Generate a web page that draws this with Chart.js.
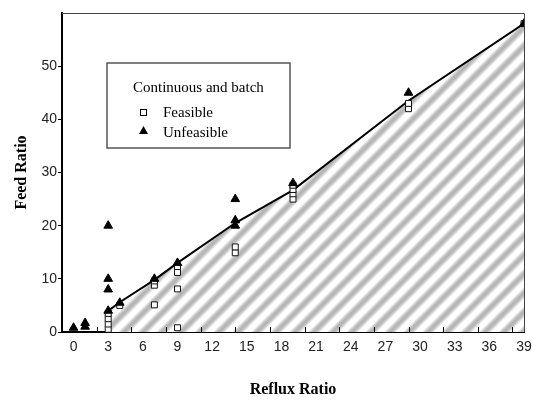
<!DOCTYPE html>
<html>
<head>
<meta charset="utf-8">
<script src="https://cdn.jsdelivr.net/npm/chart.js@4.4.1/dist/chart.umd.min.js"></script>
<style>
  html, body { margin: 0; padding: 0; background: #fff; }
  #wrap { width: 533px; height: 400px; position: relative; }
</style>
</head>
<body>
<div id="wrap"><canvas id="c"></canvas></div>
<script>
// boundary line (feasible region lies below it)
const boundX = [3, 4, 7, 9, 14, 19, 29, 39]
const boundY = [4, 5.6, 9.8, 13, 20.5, 26.7, 43.5, 58]

// feasible runs (open squares)
const feasX = [3, 3, 3, 3, 4, 7, 7, 7, 9, 9, 9, 9, 14, 14, 19, 19, 19, 19, 29, 29, 39]
const feasY = [0.5, 1.5, 2.5, 3.5, 5, 5.1, 8.8, 9.6, 0.8, 8.1, 11.2, 12.3, 14.9, 16, 25, 26, 26.8, 27.6, 42, 43, 58]

// unfeasible runs (filled triangles)
const unfX = [0, 1, 1, 3, 3, 3, 3, 4, 7, 9, 14, 14, 14, 19, 29, 39]
const unfY = [0.8, 1, 1.7, 4, 8, 10, 20, 5.5, 10, 13, 20, 21, 25, 28, 45, 58]

const xLabels = [0, 3, 6, 9, 12, 15, 18, 21, 24, 27, 30, 33, 36, 39]
const xTickMarks = [2, 5, 8, 11, 14, 17, 20, 23, 26, 29, 32, 35, 38]
const yLabels = [0, 10, 20, 30, 40, 50]

const legendTitle = 'Continuous and batch'

const toPts = (xs, ys) => xs.map((x, i) => ({ x, y: ys[i] }))

function makeStripes () {
  const s = 19
  const c = document.createElement('canvas')
  c.width = s
  c.height = s
  const g = c.getContext('2d')
  g.fillStyle = '#fff'
  g.fillRect(0, 0, s, s)
  const lines = [[-s, s, s, -s], [0, s, s, 0], [0, 2 * s, 2 * s, 0]]
  ;[[8, '#e4e4e4'], [5.5, '#c8c8c8'], [3, '#b6b6b6']].forEach(([w, col]) => {
    g.strokeStyle = col
    g.lineWidth = w
    lines.forEach(l => {
      g.beginPath()
      g.moveTo(l[0], l[1])
      g.lineTo(l[2], l[3])
      g.stroke()
    })
  })
  return document.getElementById('c').getContext('2d').createPattern(c, 'repeat')
}

const frame = {
  id: 'frame',
  afterDraw (chart) {
    const { ctx, chartArea: a, scales } = chart
    ctx.save()
    // thin box on top and right
    ctx.strokeStyle = '#444'
    ctx.lineWidth = 1
    ctx.beginPath()
    ctx.moveTo(a.left, a.top + 0.5)
    ctx.lineTo(a.right + 0.5, a.top + 0.5)
    ctx.lineTo(a.right + 0.5, a.bottom)
    ctx.stroke()
    // inward x tick marks
    ctx.strokeStyle = '#000'
    ctx.lineWidth = 1
    xTickMarks.forEach(v => {
      const px = Math.round(scales.x.getPixelForValue(v)) + 0.5
      ctx.beginPath()
      ctx.moveTo(px, a.bottom)
      ctx.lineTo(px, a.bottom - 5)
      ctx.stroke()
    })
    // legend box
    ctx.strokeStyle = '#555'
    ctx.lineWidth = 1.5
    ctx.fillStyle = '#fff'
    ctx.fillRect(107, 63, 183, 85)
    ctx.strokeRect(107, 63, 183, 85)
    ctx.fillStyle = '#000'
    ctx.font = '15px "Liberation Serif", "Times New Roman", serif'
    ctx.textBaseline = 'alphabetic'
    ctx.fillText(legendTitle, 133, 92)
    ctx.fillText(chart.data.datasets[1].label, 163, 117)
    ctx.fillText(chart.data.datasets[0].label, 163, 137)
    ctx.strokeStyle = '#000'
    ctx.lineWidth = 1
    ctx.fillStyle = '#fff'
    ctx.fillRect(140, 109, 6, 6)
    ctx.strokeRect(140.5, 109.5, 6, 6)
    ctx.fillStyle = '#000'
    ctx.beginPath()
    ctx.moveTo(143.5, 126)
    ctx.lineTo(148, 134)
    ctx.lineTo(139, 134)
    ctx.closePath()
    ctx.fill()
    ctx.restore()
  }
}

const tickFont = { family: '"Liberation Sans", Arial, sans-serif', size: 14 }
const titleFont = { family: '"Liberation Serif", "Times New Roman", serif', size: 16, weight: 'bold' }

new Chart(document.getElementById('c'), {
  type: 'scatter',
  data: {
    datasets: [
      {
        label: 'Unfeasible',
        data: toPts(unfX, unfY),
        pointStyle: 'triangle',
        pointRadius: 5,
        backgroundColor: '#000',
        borderColor: '#000',
        borderWidth: 1
      },
      {
        label: 'Feasible',
        data: toPts(feasX, feasY),
        pointStyle: 'rect',
        pointRadius: 4.2,
        backgroundColor: '#fff',
        borderColor: '#111',
        borderWidth: 1
      },
      {
        label: 'Boundary',
        data: toPts(boundX, boundY),
        showLine: true,
        pointRadius: 0,
        borderColor: '#000',
        borderWidth: 2,
        fill: 'origin',
        backgroundColor: makeStripes(),
        tension: 0
      }
    ]
  },
  options: {
    responsive: true,
    maintainAspectRatio: false,
    animation: false,
    layout: { padding: { top: 13, right: 9, left: 0, bottom: 0 } },
    plugins: {
      legend: { display: false },
      tooltip: { enabled: false }
    },
    scales: {
      x: {
        type: 'linear',
        min: -1,
        max: 39,
        afterFit: s => { s.height = 68; s.paddingRight = 0; s.paddingLeft = 0 },
        afterBuildTicks: s => { s.ticks = xLabels.map(v => ({ value: v })) },
        ticks: { color: '#222', font: tickFont, padding: 7, maxRotation: 0, autoSkip: false },
        grid: { display: true, drawOnChartArea: false, drawTicks: false },
        border: { color: '#000', width: 2 },
        title: { display: true, text: 'Reflux Ratio', color: '#000', font: titleFont, padding: { top: 0, bottom: 1 }, align: 'center' }
      },
      y: {
        type: 'linear',
        min: 0,
        max: 60,
        afterFit: s => { s.width = 62; s.paddingTop = 0; s.paddingBottom = 0 },
        afterBuildTicks: s => { s.ticks = yLabels.map(v => ({ value: v })) },
        ticks: { color: '#222', font: tickFont, padding: 1 },
        grid: { drawOnChartArea: false, tickLength: 4, color: '#000' },
        border: { color: '#000', width: 2 },
        title: { display: true, text: 'Feed Ratio', color: '#000', font: titleFont, padding: { top: 12, bottom: 0 } }
      }
    }
  },
  plugins: [frame]
})
</script>
</body>
</html>
